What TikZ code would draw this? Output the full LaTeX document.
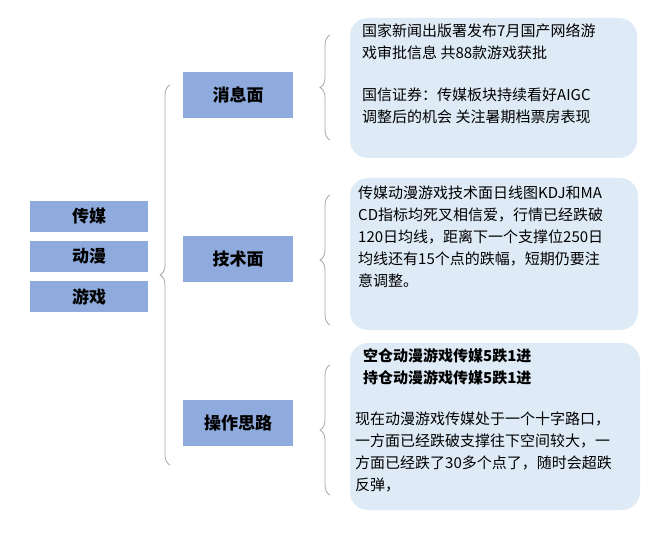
\documentclass[tikz,border=0pt]{standalone}
\usepackage{fontspec}
\setmainfont{Noto Sans CJK SC}
\usetikzlibrary{decorations.pathreplacing}
\definecolor{boxblue}{HTML}{8FAADC}
\definecolor{lightblue}{HTML}{DEEBF7}
\begin{document}
\begin{tikzpicture}[x=1pt,y=-1pt,
  tag/.style={fill=boxblue,draw=none,font=\bfseries\fontsize{17}{19}\selectfont,inner sep=0},
  card/.style={fill=lightblue,draw=none,rounded corners=18pt},
  body/.style={font=\fontsize{15}{22}\selectfont,align=left,anchor=north west,inner sep=0},
  br/.style={draw=gray!70,line width=0.8pt,decorate,decoration={brace,amplitude=10pt}}]
\useasboundingbox (0,0) rectangle (660,534);
\fill[white] (0,0) rectangle (660,534);
\node[tag,minimum width=118,minimum height=31] (a) at (89,216.5) {传媒};
\node[tag,minimum width=118,minimum height=31] (b) at (89,256.5) {动漫};
\node[tag,minimum width=118,minimum height=31] (c) at (89,296.5) {游戏};
\draw[br] (170,465) -- (170,85);
\node[tag,minimum width=110,minimum height=46] (m1) at (238,95) {消息面};
\node[tag,minimum width=110,minimum height=46] (m2) at (238,259) {技术面};
\node[tag,minimum width=110,minimum height=46] (m3) at (238,423) {操作思路};
\draw[br] (330,140) -- (330,35);
\draw[br] (330,325) -- (330,195);
\draw[br] (330,495) -- (330,365);
\fill[card] (350,18) rectangle (637,158);
\fill[card] (350,178) rectangle (638,330);
\fill[card] (350,343) rectangle (640,510);
\node[body] (t1) at (362,24) {国家新闻出版署发布7月国产网络游\\戏审批信息 共88款游戏获批\\[20pt]国信证券：传媒板块持续看好AIGC\\调整后的机会 关注暑期档票房表现};
\node[body] (t2) at (358,186) {传媒动漫游戏技术面日线图KDJ和MA\\CD指标均死叉相信爱，行情已经跌破\\120日均线，距离下一个支撑位250日\\均线还有15个点的跌幅，短期仍要注\\意调整。};
\node[body,font=\bfseries\fontsize{15}{22}\selectfont] (t3) at (363,348) {空仓动漫游戏传媒5跌1进\\持仓动漫游戏传媒5跌1进};
\node[body] (t4) at (355,412) {现在动漫游戏传媒处于一个十字路口，\\一方面已经跌破支撑往下空间较大，一\\方面已经跌了30多个点了，随时会超跌\\反弹，};
\end{tikzpicture}
\end{document}
